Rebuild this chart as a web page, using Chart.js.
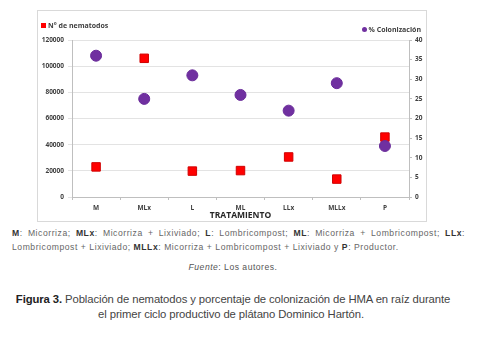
<!DOCTYPE html>
<html>
<head>
<meta charset="utf-8">
<script src="https://cdn.jsdelivr.net/npm/chart.js@4.4.1/dist/chart.umd.min.js"></script>
<style>
  body { margin: 0; background: #fff; width: 484px; height: 349px; position: relative; overflow: hidden; font-family: "Liberation Sans", Arial, sans-serif; }
  #chart-box { position: absolute; left: 37px; top: 10px; width: 390px; height: 212px; border: 1px solid #d9d9d9; box-sizing: border-box; }
  #chart-box canvas { position: absolute; left: 0; top: 0; }
  .legend { position: absolute; font-family: "Open Sans", sans-serif; font-weight: bold; font-size: 7px; color: #404040; white-space: nowrap; }
  .legend .sq { display: inline-block; width: 5px; height: 5px; background: #ff0000; margin-right: 2px; vertical-align: 0px; }
  .legend .dot { display: inline-block; width: 5px; height: 5px; border-radius: 50%; background: #7030a0; margin-right: 2px; vertical-align: 0px; }
  .note { position: absolute; left: 12px; width: 453px; font-size: 8.6px; letter-spacing: 0.55px; color: #666; white-space: nowrap; }
  .note b { color: #333; }
  #note1 { top: 228px; text-align: justify; text-align-last: justify; }
  #note2 { top: 242px; }
  #source { position: absolute; top: 262px; left: 0; width: 466px; text-align: center; font-size: 8.6px; letter-spacing: 0.5px; color: #555; }
  .caption { position: absolute; left: 0; width: 466px; text-align: center; font-size: 11.3px; color: #444; letter-spacing: -0.1px; white-space: nowrap; }
  .caption b { color: #222; }
  #cap1 { top: 293px; }
  #cap2 { top: 308px; width: 462px; }
</style>
</head>
<body>
<div id="chart-box">
  <canvas id="scatter-chart" width="388" height="210"></canvas>
  <div class="legend" style="left:3px; top:10px;"><span class="sq"></span>N° de nematodos</div>
  <div class="legend" style="right:5px; top:14px;"><span class="dot"></span>% Colonización</div>
</div>

<div class="note" id="note1"><b>M</b>: Micorriza; <b>MLx</b>: Micorriza + Lixiviado; <b>L</b>: Lombricompost; <b>ML</b>: Micorriza + Lombricompost; <b>LLx</b>:</div>
<div class="note" id="note2">Lombricompost + Lixiviado; <b>MLLx</b>: Micorriza + Lombricompost + Lixiviado y <b>P</b>: Productor.</div>
<div id="source"><i>Fuente</i>: Los autores.</div>
<div class="caption" id="cap1"><b>Figura 3.</b> Población de nematodos y porcentaje de colonización de HMA en raíz durante</div>
<div class="caption" id="cap2">el primer ciclo productivo de plátano Dominico Hartón.</div>

<script>
  // Treatments and measured values
  const treatments = ['M', 'MLx', 'L', 'ML', 'LLx', 'MLLx', 'P'];
  const nematodes = [23000, 106000, 19800, 20200, 30600, 13700, 45800];
  const colonization = [36, 25, 31, 26, 22, 29, 13];
  const nematodeTicks = [0, 20000, 40000, 60000, 80000, 100000, 120000];
  const colonizationTicks = [0, 5, 10, 15, 20, 25, 30, 35, 40];

  const tickFont = { family: 'Open Sans', weight: 'bold', size: 6.5 };
  const axisGray = '#bfbfbf';
  const plainNumber = (value) => String(value);

  const ctx = document.getElementById('scatter-chart').getContext('2d');
  new Chart(ctx, {
    type: 'line',
    data: {
      labels: treatments,
      datasets: [
        {
          label: 'N° de nematodos',
          data: nematodes,
          yAxisID: 'y',
          showLine: false,
          pointStyle: 'rect',
          pointRadius: 6,
          backgroundColor: '#ff0000',
          borderColor: '#d00000',
          borderWidth: 1,
          order: 2
        },
        {
          label: '% Colonización',
          data: colonization,
          yAxisID: 'y1',
          showLine: false,
          pointStyle: 'circle',
          pointRadius: 5.5,
          backgroundColor: '#7030a0',
          borderColor: '#6a2c9a',
          borderWidth: 1,
          order: 1
        }
      ]
    },
    options: {
      responsive: false,
      animation: false,
      layout: { padding: { top: 29, right: 0, bottom: 0, left: 0 } },
      plugins: {
        legend: { display: false },
        tooltip: { enabled: false }
      },
      scales: {
        x: {
          offset: true,
          grid: { display: true, drawOnChartArea: false, offset: true, tickLength: 3, color: axisGray },
          border: { color: axisGray },
          ticks: { color: '#404040', font: tickFont, padding: 4 },
          title: {
            display: true,
            text: 'TRATAMIENTO',
            color: '#262626',
            font: { family: 'Open Sans', weight: 'bold', size: 8.5 },
            padding: { top: 0, bottom: 0 }
          },
          afterFit: (scale) => { scale.height = 24; }
        },
        y: {
          position: 'left',
          min: 0,
          max: 120000,
          afterBuildTicks: (scale) => { scale.ticks = nematodeTicks.map(v => ({ value: v })); },
          grid: { color: '#e3e3e3', tickLength: 4 },
          border: { color: axisGray },
          ticks: { color: '#404040', font: tickFont, padding: 4, callback: plainNumber },
          afterFit: (scale) => { scale.width = 34; }
        },
        y1: {
          position: 'right',
          min: 0,
          max: 40,
          afterBuildTicks: (scale) => { scale.ticks = colonizationTicks.map(v => ({ value: v })); },
          grid: { drawOnChartArea: false, tickLength: 3, color: axisGray },
          border: { color: axisGray },
          ticks: { color: '#404040', font: tickFont, padding: 3, callback: plainNumber },
          afterFit: (scale) => { scale.width = 17; }
        }
      }
    }
  });
</script>
</body>
</html>
